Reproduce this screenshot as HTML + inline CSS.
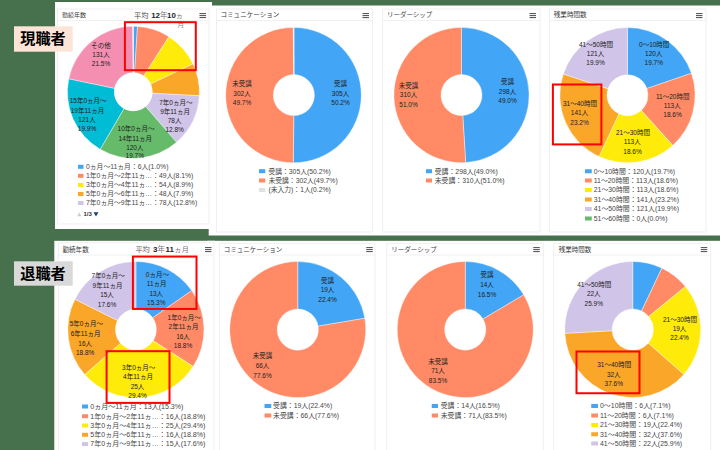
<!DOCTYPE html>
<html><head><meta charset="utf-8"><title>chart</title>
<style>html,body{margin:0;padding:0;background:#47704C;font-family:"Liberation Sans","Noto Sans CJK JP",sans-serif;}svg{display:block}svg text{font-family:"Liberation Sans","Noto Sans CJK JP",sans-serif;}</style>
</head><body><svg width="720" height="450" viewBox="0 0 720 450"><rect x="0.00" y="0.00" width="720.00" height="450.00" fill="#47704C"/>
<rect x="208.70" y="5.50" width="511.30" height="230.00" fill="#fff"/>
<rect x="207.50" y="240.80" width="512.50" height="209.20" fill="#fff"/>
<rect x="55.00" y="2.00" width="157.00" height="227.00" fill="#fff"/>
<rect x="54.30" y="240.80" width="160.70" height="210.00" fill="#fff"/>
<rect x="57.50" y="9.00" width="151.50" height="215.00" fill="#fff" stroke="#ECECEC" stroke-width="0.80"/>
<line x1="57.50" y1="20.50" x2="209.00" y2="20.50" stroke="#ECECEC" stroke-width="0.80"/>
<text x="62.00" y="17.40" font-size="6" fill="#3a3a3a">勤続年数</text>
<rect x="199.50" y="13.00" width="6.50" height="1.10" fill="#5a5a5a"/>
<rect x="199.50" y="15.00" width="6.50" height="1.10" fill="#5a5a5a"/>
<rect x="199.50" y="17.00" width="6.50" height="1.10" fill="#5a5a5a"/>
<rect x="216.50" y="9.00" width="156.00" height="223.00" fill="#fff" stroke="#ECECEC" stroke-width="0.80"/>
<line x1="216.50" y1="20.50" x2="372.50" y2="20.50" stroke="#ECECEC" stroke-width="0.80"/>
<text x="220.50" y="17.40" font-size="6.56" fill="#3a3a3a">コミュニケーション</text>
<rect x="362.50" y="13.00" width="6.50" height="1.10" fill="#5a5a5a"/>
<rect x="362.50" y="15.00" width="6.50" height="1.10" fill="#5a5a5a"/>
<rect x="362.50" y="17.00" width="6.50" height="1.10" fill="#5a5a5a"/>
<rect x="382.50" y="9.00" width="157.50" height="223.00" fill="#fff" stroke="#ECECEC" stroke-width="0.80"/>
<line x1="382.50" y1="20.50" x2="540.00" y2="20.50" stroke="#ECECEC" stroke-width="0.80"/>
<text x="387.00" y="17.40" font-size="6.5" fill="#3a3a3a">リーダーシップ</text>
<rect x="529.50" y="13.00" width="6.50" height="1.10" fill="#5a5a5a"/>
<rect x="529.50" y="15.00" width="6.50" height="1.10" fill="#5a5a5a"/>
<rect x="529.50" y="17.00" width="6.50" height="1.10" fill="#5a5a5a"/>
<rect x="549.50" y="9.00" width="156.50" height="223.00" fill="#fff" stroke="#ECECEC" stroke-width="0.80"/>
<line x1="549.50" y1="20.50" x2="706.00" y2="20.50" stroke="#ECECEC" stroke-width="0.80"/>
<text x="553.75" y="17.40" font-size="6.6" fill="#3a3a3a">残業時間数</text>
<rect x="696.00" y="13.00" width="6.50" height="1.10" fill="#5a5a5a"/>
<rect x="696.00" y="15.00" width="6.50" height="1.10" fill="#5a5a5a"/>
<rect x="696.00" y="17.00" width="6.50" height="1.10" fill="#5a5a5a"/>
<path d="M133.40 26.30A66.00 66.00 0 0 1 137.49 26.43L134.52 74.33A18.00 18.00 0 0 0 133.40 74.30Z" fill="#42A5F5" stroke="#fff" stroke-width="0.40" stroke-linejoin="round"/>
<path d="M137.49 26.43A66.00 66.00 0 0 1 168.93 36.68L143.09 77.13A18.00 18.00 0 0 0 134.52 74.33Z" fill="#FF8A65" stroke="#fff" stroke-width="0.40" stroke-linejoin="round"/>
<path d="M168.93 36.68A66.00 66.00 0 0 1 192.99 63.93L149.65 84.56A18.00 18.00 0 0 0 143.09 77.13Z" fill="#FFEB0A" stroke="#fff" stroke-width="0.40" stroke-linejoin="round"/>
<path d="M192.99 63.93A66.00 66.00 0 0 1 199.31 95.71L151.38 93.23A18.00 18.00 0 0 0 149.65 84.56Z" fill="#FAA628" stroke="#fff" stroke-width="0.40" stroke-linejoin="round"/>
<path d="M199.31 95.71A66.00 66.00 0 0 1 176.57 142.22L145.17 105.91A18.00 18.00 0 0 0 151.38 93.23Z" fill="#D1C4E9" stroke="#fff" stroke-width="0.40" stroke-linejoin="round"/>
<path d="M176.57 142.22A66.00 66.00 0 0 1 100.20 149.34L124.35 107.86A18.00 18.00 0 0 0 145.17 105.91Z" fill="#66BB6A" stroke="#fff" stroke-width="0.40" stroke-linejoin="round"/>
<path d="M100.20 149.34A66.00 66.00 0 0 1 68.80 78.76L115.78 88.61A18.00 18.00 0 0 0 124.35 107.86Z" fill="#00BCD4" stroke="#fff" stroke-width="0.40" stroke-linejoin="round"/>
<path d="M68.80 78.76A66.00 66.00 0 0 1 132.72 26.30L133.21 74.30A18.00 18.00 0 0 0 115.78 88.61Z" fill="#F48FB1" stroke="#fff" stroke-width="0.40" stroke-linejoin="round"/>
<path d="M132.72 26.30A66.00 66.00 0 0 1 133.40 26.30L133.40 74.30A18.00 18.00 0 0 0 133.21 74.30Z" fill="#E1D5E7" stroke="#fff" stroke-width="0.40" stroke-linejoin="round"/>
<circle cx="133.3" cy="91.9" r="19.3" fill="#fff"/>
<path d="M294.00 27.50A67.60 67.60 0 1 1 293.30 162.70L293.79 115.60A20.50 20.50 0 1 0 294.00 74.60Z" fill="#42A5F5" stroke="#fff" stroke-width="0.40" stroke-linejoin="round"/>
<path d="M293.30 162.70A67.60 67.60 0 0 1 293.30 27.50L293.79 74.60A20.50 20.50 0 0 0 293.79 115.60Z" fill="#FF8A65" stroke="#fff" stroke-width="0.40" stroke-linejoin="round"/>
<path d="M293.30 27.50A67.60 67.60 0 0 1 294.00 27.50L294.00 74.60A20.50 20.50 0 0 0 293.79 74.60Z" fill="#E0E0E0" stroke="#fff" stroke-width="0.40" stroke-linejoin="round"/>
<path d="M461.50 27.50A67.60 67.60 0 0 1 465.69 162.57L462.77 115.56A20.50 20.50 0 0 0 461.50 74.60Z" fill="#42A5F5" stroke="#fff" stroke-width="0.40" stroke-linejoin="round"/>
<path d="M465.69 162.57A67.60 67.60 0 1 1 461.50 27.50L461.50 74.60A20.50 20.50 0 1 0 462.77 115.56Z" fill="#FF8A65" stroke="#fff" stroke-width="0.40" stroke-linejoin="round"/>
<path d="M627.50 27.60A67.60 67.60 0 0 1 691.44 73.25L646.89 88.54A20.50 20.50 0 0 0 627.50 74.70Z" fill="#42A5F5" stroke="#fff" stroke-width="0.40" stroke-linejoin="round"/>
<path d="M691.44 73.25A67.60 67.60 0 0 1 672.77 145.41L641.23 110.43A20.50 20.50 0 0 0 646.89 88.54Z" fill="#FF8A65" stroke="#fff" stroke-width="0.40" stroke-linejoin="round"/>
<path d="M672.77 145.41A67.60 67.60 0 0 1 599.07 156.53L618.88 113.80A20.50 20.50 0 0 0 641.23 110.43Z" fill="#FFEB0A" stroke="#fff" stroke-width="0.40" stroke-linejoin="round"/>
<path d="M599.07 156.53A67.60 67.60 0 0 1 563.34 73.91L608.04 88.74A20.50 20.50 0 0 0 618.88 113.80Z" fill="#FAA628" stroke="#fff" stroke-width="0.40" stroke-linejoin="round"/>
<path d="M563.34 73.91A67.60 67.60 0 0 1 627.50 27.60L627.50 74.70A20.50 20.50 0 0 0 608.04 88.74Z" fill="#D1C4E9" stroke="#fff" stroke-width="0.40" stroke-linejoin="round"/>
<g font-size="6.5" fill="#222">
<text x="91.25" y="47.85">その他</text>
<text x="92.33" y="56.85">131人</text>
<text x="91.78" y="65.85">21.5%</text>
<text x="69.75" y="102.85">15年0ヵ月～</text>
<text x="70.74" y="112.85">19年11ヵ月</text>
<text x="78.33" y="121.85">121人</text>
<text x="77.78" y="130.95">19.9%</text>
<text x="117.55" y="131.25">10年0ヵ月～</text>
<text x="118.54" y="140.55">14年11ヵ月</text>
<text x="126.13" y="149.75">120人</text>
<text x="125.58" y="158.35">19.7%</text>
<text x="159.16" y="104.85">7年0ヵ月～</text>
<text x="160.14" y="114.15">9年11ヵ月</text>
<text x="167.74" y="123.15">78人</text>
<text x="165.38" y="132.35">12.8%</text>
<text x="232.25" y="86.10">未受講</text>
<text x="233.33" y="95.85">302人</text>
<text x="232.78" y="105.10">49.7%</text>
<text x="334.00" y="86.10">受講</text>
<text x="331.83" y="95.85">305人</text>
<text x="331.28" y="105.10">50.2%</text>
<text x="398.75" y="87.85">未受講</text>
<text x="399.83" y="97.35">310人</text>
<text x="399.28" y="106.60">51.0%</text>
<text x="501.00" y="84.35">受講</text>
<text x="498.83" y="93.85">298人</text>
<text x="498.28" y="103.35">49.0%</text>
<text x="578.98" y="46.85">41～50時間</text>
<text x="586.83" y="55.85">121人</text>
<text x="586.28" y="65.35">19.9%</text>
<text x="639.03" y="46.85">0～10時間</text>
<text x="645.08" y="55.85">120人</text>
<text x="644.53" y="65.35">19.7%</text>
<text x="655.98" y="98.60">11～20時間</text>
<text x="663.83" y="108.10">113人</text>
<text x="663.28" y="117.35">18.6%</text>
<text x="615.98" y="134.85">21～30時間</text>
<text x="623.83" y="144.35">113人</text>
<text x="623.28" y="153.85">18.6%</text>
<text x="562.98" y="106.10">31～40時間</text>
<text x="570.83" y="115.35">141人</text>
<text x="570.28" y="124.85">23.2%</text>
</g>
<rect x="78.00" y="164.80" width="5.50" height="4.00" fill="#42A5F5"/>
<text x="86.00" y="169.15" font-size="6.82" fill="#474747">0ヵ月～11ヵ月：6人(1.0%)</text>
<rect x="78.00" y="173.80" width="5.50" height="4.00" fill="#FF8A65"/>
<text x="86.00" y="178.15" font-size="6.82" fill="#474747">1年0ヵ月～2年11ヵ…：49人(8.1%)</text>
<rect x="78.00" y="183.00" width="5.50" height="4.00" fill="#FFEB0A"/>
<text x="86.00" y="187.35" font-size="6.82" fill="#474747">3年0ヵ月～4年11ヵ…：54人(8.9%)</text>
<rect x="78.00" y="192.00" width="5.50" height="4.00" fill="#FAA628"/>
<text x="86.00" y="196.35" font-size="6.82" fill="#474747">5年0ヵ月～6年11ヵ…：48人(7.9%)</text>
<rect x="78.00" y="201.00" width="5.50" height="4.00" fill="#D1C4E9"/>
<text x="86.00" y="205.35" font-size="6.82" fill="#474747">7年0ヵ月～9年11ヵ…：78人(12.8%)</text>
<path d="M77.3 216.2L79.3 212.4L81.3 216.2Z" fill="#ccc"/>
<text x="83.40" y="216.40" font-size="6" font-weight="bold" fill="#333">1/3</text>
<path d="M93.6 212.2L98.4 212.2L96.0 216.6Z" fill="#1a3c6e"/>
<rect x="259.00" y="169.20" width="6.30" height="4.00" fill="#42A5F5"/>
<text x="268.40" y="173.55" font-size="6.82" fill="#474747">受講：305人(50.2%)</text>
<rect x="259.00" y="178.50" width="6.30" height="4.00" fill="#FF8A65"/>
<text x="268.40" y="182.85" font-size="6.82" fill="#474747">未受講：302人(49.7%)</text>
<rect x="259.00" y="188.00" width="6.30" height="4.00" fill="#E0E0E0"/>
<text x="268.40" y="192.35" font-size="6.82" fill="#474747">(未入力)：1人(0.2%)</text>
<rect x="426.00" y="169.20" width="6.00" height="4.00" fill="#42A5F5"/>
<text x="434.70" y="173.55" font-size="6.88" fill="#474747">受講：298人(49.0%)</text>
<rect x="426.00" y="178.50" width="6.00" height="4.00" fill="#FF8A65"/>
<text x="434.70" y="182.85" font-size="6.88" fill="#474747">未受講：310人(51.0%)</text>
<rect x="585.00" y="169.25" width="6.75" height="4.00" fill="#42A5F5"/>
<text x="593.75" y="173.60" font-size="6.88" fill="#474747">0～10時間：120人(19.7%)</text>
<rect x="585.00" y="178.50" width="6.75" height="4.00" fill="#FF8A65"/>
<text x="593.75" y="182.85" font-size="6.88" fill="#474747">11～20時間：113人(18.6%)</text>
<rect x="585.00" y="188.00" width="6.75" height="4.00" fill="#FFEB0A"/>
<text x="593.75" y="192.35" font-size="6.88" fill="#474747">21～30時間：113人(18.6%)</text>
<rect x="585.00" y="197.50" width="6.75" height="4.00" fill="#FAA628"/>
<text x="593.75" y="201.85" font-size="6.88" fill="#474747">31～40時間：141人(23.2%)</text>
<rect x="585.00" y="207.00" width="6.75" height="4.00" fill="#D1C4E9"/>
<text x="593.75" y="211.35" font-size="6.88" fill="#474747">41～50時間：121人(19.9%)</text>
<rect x="585.00" y="216.50" width="6.75" height="4.00" fill="#66BB6A"/>
<text x="593.75" y="220.85" font-size="6.88" fill="#474747">51～60時間：0人(0.0%)</text>
<text x="134.00" y="17.90" font-size="7.2" fill="#4a4a4a">平均</text>
<text x="151.20" y="17.90" font-size="7.9" font-weight="bold" fill="#222">12</text>
<text x="160.10" y="18.00" font-size="7.5" fill="#777">年</text>
<text x="167.00" y="17.90" font-size="7.9" font-weight="bold" fill="#222">10</text>
<text x="175.81" y="17.90" font-size="7.2" fill="#777">ヵ</text>
<text x="177.50" y="27.40" font-size="6.6" fill="#888">月</text>
<rect x="58.30" y="242.80" width="155.60" height="217.20" fill="#fff" stroke="#ECECEC" stroke-width="0.80"/>
<line x1="58.30" y1="255.00" x2="213.90" y2="255.00" stroke="#ECECEC" stroke-width="0.80"/>
<text x="62.50" y="251.80" font-size="6.56" fill="#3a3a3a">勤続年数</text>
<rect x="205.00" y="247.00" width="6.50" height="1.10" fill="#5a5a5a"/>
<rect x="205.00" y="249.00" width="6.50" height="1.10" fill="#5a5a5a"/>
<rect x="205.00" y="251.00" width="6.50" height="1.10" fill="#5a5a5a"/>
<rect x="219.60" y="243.30" width="155.40" height="216.70" fill="#fff" stroke="#ECECEC" stroke-width="0.80"/>
<line x1="219.60" y1="255.00" x2="375.00" y2="255.00" stroke="#ECECEC" stroke-width="0.80"/>
<text x="223.75" y="251.80" font-size="6.53" fill="#3a3a3a">コミュニケーション</text>
<rect x="366.25" y="247.00" width="6.50" height="1.10" fill="#5a5a5a"/>
<rect x="366.25" y="249.00" width="6.50" height="1.10" fill="#5a5a5a"/>
<rect x="366.25" y="251.00" width="6.50" height="1.10" fill="#5a5a5a"/>
<rect x="386.75" y="243.30" width="156.50" height="216.70" fill="#fff" stroke="#ECECEC" stroke-width="0.80"/>
<line x1="386.75" y1="255.00" x2="543.25" y2="255.00" stroke="#ECECEC" stroke-width="0.80"/>
<text x="391.25" y="251.80" font-size="6.54" fill="#3a3a3a">リーダーシップ</text>
<rect x="533.25" y="247.00" width="6.50" height="1.10" fill="#5a5a5a"/>
<rect x="533.25" y="249.00" width="6.50" height="1.10" fill="#5a5a5a"/>
<rect x="533.25" y="251.00" width="6.50" height="1.10" fill="#5a5a5a"/>
<rect x="553.75" y="243.30" width="157.00" height="216.70" fill="#fff" stroke="#ECECEC" stroke-width="0.80"/>
<line x1="553.75" y1="255.00" x2="710.75" y2="255.00" stroke="#ECECEC" stroke-width="0.80"/>
<text x="558.75" y="251.80" font-size="6.5" fill="#3a3a3a">残業時間数</text>
<rect x="700.75" y="247.00" width="6.50" height="1.10" fill="#5a5a5a"/>
<rect x="700.75" y="249.00" width="6.50" height="1.10" fill="#5a5a5a"/>
<rect x="700.75" y="251.00" width="6.50" height="1.10" fill="#5a5a5a"/>
<path d="M135.90 261.50A68.10 68.10 0 0 1 191.72 290.60L152.70 317.86A20.50 20.50 0 0 0 135.90 309.10Z" fill="#42A5F5" stroke="#fff" stroke-width="0.40" stroke-linejoin="round"/>
<path d="M191.72 290.60A68.10 68.10 0 0 1 193.13 366.51L153.13 340.71A20.50 20.50 0 0 0 152.70 317.86Z" fill="#FF8A65" stroke="#fff" stroke-width="0.40" stroke-linejoin="round"/>
<path d="M193.13 366.51A68.10 68.10 0 0 1 84.73 374.54L120.50 343.13A20.50 20.50 0 0 0 153.13 340.71Z" fill="#FFEB0A" stroke="#fff" stroke-width="0.40" stroke-linejoin="round"/>
<path d="M84.73 374.54A68.10 68.10 0 0 1 74.94 299.25L117.55 320.46A20.50 20.50 0 0 0 120.50 343.13Z" fill="#FAA628" stroke="#fff" stroke-width="0.40" stroke-linejoin="round"/>
<path d="M74.94 299.25A68.10 68.10 0 0 1 135.90 261.50L135.90 309.10A20.50 20.50 0 0 0 117.55 320.46Z" fill="#D1C4E9" stroke="#fff" stroke-width="0.40" stroke-linejoin="round"/>
<path d="M297.75 261.55A68.00 68.00 0 0 1 364.81 318.29L318.07 326.14A20.60 20.60 0 0 0 297.75 308.95Z" fill="#42A5F5" stroke="#fff" stroke-width="0.40" stroke-linejoin="round"/>
<path d="M364.81 318.29A68.00 68.00 0 1 1 297.75 261.55L297.75 308.95A20.60 20.60 0 1 0 318.07 326.14Z" fill="#FF8A65" stroke="#fff" stroke-width="0.40" stroke-linejoin="round"/>
<path d="M465.25 261.55A68.00 68.00 0 0 1 523.72 294.83L482.96 319.03A20.60 20.60 0 0 0 465.25 308.95Z" fill="#42A5F5" stroke="#fff" stroke-width="0.40" stroke-linejoin="round"/>
<path d="M523.72 294.83A68.00 68.00 0 1 1 465.25 261.55L465.25 308.95A20.60 20.60 0 1 0 482.96 319.03Z" fill="#FF8A65" stroke="#fff" stroke-width="0.40" stroke-linejoin="round"/>
<path d="M632.75 261.55A68.00 68.00 0 0 1 661.93 268.13L641.59 310.94A20.60 20.60 0 0 0 632.75 308.95Z" fill="#42A5F5" stroke="#fff" stroke-width="0.40" stroke-linejoin="round"/>
<path d="M661.93 268.13A68.00 68.00 0 0 1 685.46 286.59L648.72 316.54A20.60 20.60 0 0 0 641.59 310.94Z" fill="#FF8A65" stroke="#fff" stroke-width="0.40" stroke-linejoin="round"/>
<path d="M685.46 286.59A68.00 68.00 0 0 1 683.84 374.42L648.23 343.14A20.60 20.60 0 0 0 648.72 316.54Z" fill="#FFEB0A" stroke="#fff" stroke-width="0.40" stroke-linejoin="round"/>
<path d="M683.84 374.42A68.00 68.00 0 0 1 564.85 333.32L612.18 330.69A20.60 20.60 0 0 0 648.23 343.14Z" fill="#FAA628" stroke="#fff" stroke-width="0.40" stroke-linejoin="round"/>
<path d="M564.85 333.32A68.00 68.00 0 0 1 632.75 261.55L632.75 308.95A20.60 20.60 0 0 0 612.18 330.69Z" fill="#D1C4E9" stroke="#fff" stroke-width="0.40" stroke-linejoin="round"/>
<g font-size="6.5" fill="#222">
<text x="91.56" y="278.10">7年0ヵ月～</text>
<text x="92.54" y="287.85">9年11ヵ月</text>
<text x="100.14" y="297.35">15人</text>
<text x="97.78" y="306.85">17.6%</text>
<text x="145.86" y="276.85">0ヵ月～</text>
<text x="146.85" y="286.35">11ヵ月</text>
<text x="149.39" y="295.85">13人</text>
<text x="147.03" y="304.85">15.3%</text>
<text x="167.56" y="319.85">1年0ヵ月～</text>
<text x="168.54" y="329.35">2年11ヵ月</text>
<text x="176.14" y="338.85">16人</text>
<text x="173.78" y="348.35">18.8%</text>
<text x="69.76" y="326.10">5年0ヵ月～</text>
<text x="70.74" y="335.85">6年11ヵ月</text>
<text x="78.34" y="345.55">16人</text>
<text x="75.98" y="355.15">18.8%</text>
<text x="122.06" y="369.85">3年0ヵ月～</text>
<text x="123.04" y="379.35">4年11ヵ月</text>
<text x="130.64" y="388.65">25人</text>
<text x="128.28" y="398.35">29.4%</text>
<text x="321.00" y="282.85">受講</text>
<text x="320.64" y="292.35">19人</text>
<text x="318.28" y="301.85">22.4%</text>
<text x="252.75" y="358.35">未受講</text>
<text x="255.64" y="367.85">66人</text>
<text x="253.28" y="377.85">77.6%</text>
<text x="480.50" y="277.35">受講</text>
<text x="480.14" y="287.35">14人</text>
<text x="477.78" y="296.85">16.5%</text>
<text x="428.25" y="363.60">未受講</text>
<text x="431.14" y="372.85">71人</text>
<text x="428.78" y="382.60">83.5%</text>
<text x="577.23" y="286.85">41～50時間</text>
<text x="586.89" y="296.35">22人</text>
<text x="584.53" y="305.85">25.9%</text>
<text x="662.98" y="321.60">21～30時間</text>
<text x="672.64" y="331.10">19人</text>
<text x="670.28" y="340.35">22.4%</text>
<text x="597.23" y="366.60">31～40時間</text>
<text x="606.89" y="376.85">32人</text>
<text x="604.53" y="386.10">37.6%</text>
</g>
<rect x="82.00" y="404.50" width="6.10" height="4.00" fill="#42A5F5"/>
<text x="90.30" y="408.85" font-size="7.05" fill="#474747">0ヵ月～11ヵ月：13人(15.3%)</text>
<rect x="82.00" y="414.20" width="6.10" height="4.00" fill="#FF8A65"/>
<text x="90.30" y="418.55" font-size="7.05" fill="#474747">1年0ヵ月～2年11ヵ…：16人(18.8%)</text>
<rect x="82.00" y="423.50" width="6.10" height="4.00" fill="#FFEB0A"/>
<text x="90.30" y="427.85" font-size="7.05" fill="#474747">3年0ヵ月～4年11ヵ…：25人(29.4%)</text>
<rect x="82.00" y="432.80" width="6.10" height="4.00" fill="#FAA628"/>
<text x="90.30" y="437.15" font-size="7.05" fill="#474747">5年0ヵ月～6年11ヵ…：16人(18.8%)</text>
<rect x="82.00" y="442.10" width="6.10" height="4.00" fill="#D1C4E9"/>
<text x="90.30" y="446.45" font-size="7.05" fill="#474747">7年0ヵ月～9年11ヵ…：15人(17.6%)</text>
<rect x="264.50" y="404.00" width="6.75" height="4.00" fill="#42A5F5"/>
<text x="273.00" y="408.35" font-size="6.88" fill="#474747">受講：19人(22.4%)</text>
<rect x="264.50" y="413.50" width="6.75" height="4.00" fill="#FF8A65"/>
<text x="273.00" y="417.85" font-size="6.88" fill="#474747">未受講：66人(77.6%)</text>
<rect x="431.75" y="404.00" width="6.25" height="4.00" fill="#42A5F5"/>
<text x="440.75" y="408.35" font-size="6.86" fill="#474747">受講：14人(16.5%)</text>
<rect x="431.75" y="413.50" width="6.25" height="4.00" fill="#FF8A65"/>
<text x="440.75" y="417.85" font-size="6.86" fill="#474747">未受講：71人(83.5%)</text>
<rect x="591.25" y="404.00" width="6.75" height="4.00" fill="#42A5F5"/>
<text x="600.00" y="408.35" font-size="6.94" fill="#474747">0～10時間：6人(7.1%)</text>
<rect x="591.25" y="413.50" width="6.75" height="4.00" fill="#FF8A65"/>
<text x="600.00" y="417.85" font-size="6.94" fill="#474747">11～20時間：6人(7.1%)</text>
<rect x="591.25" y="423.00" width="6.75" height="4.00" fill="#FFEB0A"/>
<text x="600.00" y="427.35" font-size="6.94" fill="#474747">21～30時間：19人(22.4%)</text>
<rect x="591.25" y="432.25" width="6.75" height="4.00" fill="#FAA628"/>
<text x="600.00" y="436.60" font-size="6.94" fill="#474747">31～40時間：32人(37.6%)</text>
<rect x="591.25" y="441.50" width="6.75" height="4.00" fill="#D1C4E9"/>
<text x="600.00" y="445.85" font-size="6.94" fill="#474747">41～50時間：22人(25.9%)</text>
<text x="135.40" y="251.70" font-size="7.2" fill="#5c5c5c">平均</text>
<text x="152.90" y="251.70" font-size="7.9" font-weight="bold" fill="#222">3</text>
<text x="157.50" y="251.80" font-size="7.5" fill="#777">年</text>
<text x="165.60" y="251.70" font-size="7.9" font-weight="bold" fill="#222">11</text>
<text x="174.21" y="251.70" font-size="7.2" fill="#777">ヵ</text>
<text x="181.80" y="251.70" font-size="7.2" fill="#777">月</text>
<rect x="124.90" y="22.20" width="70.90" height="48.00" fill="none" stroke="#FF0000" stroke-width="2.00"/>
<rect x="552.90" y="84.50" width="48.50" height="59.90" fill="none" stroke="#FF0000" stroke-width="2.00"/>
<rect x="132.90" y="256.55" width="63.60" height="52.40" fill="none" stroke="#FF0000" stroke-width="2.00"/>
<rect x="106.60" y="351.20" width="62.90" height="51.70" fill="none" stroke="#FF0000" stroke-width="2.00"/>
<rect x="576.50" y="351.50" width="63.00" height="41.75" fill="none" stroke="#FF0000" stroke-width="2.00"/>
<rect x="14.00" y="26.30" width="58.70" height="25.40" fill="#FCE4D6"/>
<text x="20.30" y="43.95" font-size="15.13" font-weight="bold" fill="#000">現職者</text>
<rect x="14.00" y="261.30" width="58.70" height="24.40" fill="#D9D9D9"/>
<text x="20.30" y="278.55" font-size="15.13" font-weight="bold" fill="#000">退職者</text></svg></body></html>
